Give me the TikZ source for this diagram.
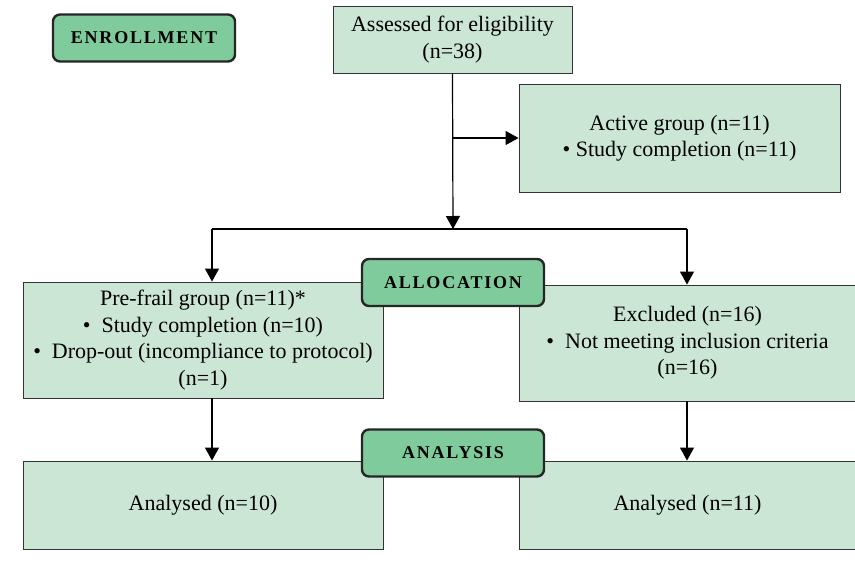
\documentclass[tikz,border=0pt]{standalone}
\usepackage{fontspec}
\setmainfont{Liberation Serif}
\usetikzlibrary{arrows.meta}
\definecolor{boxfill}{HTML}{CCE6D5}
\definecolor{tagfill}{HTML}{7FCB9C}
\definecolor{tagline}{HTML}{262626}
\newcommand{\tagfont}{\fontsize{18}{20}\selectfont\bfseries\addfontfeature{LetterSpace=10}}
\begin{document}
\begin{tikzpicture}[x=1pt,y=-1pt,
  box/.style={draw=black!80,line width=0.9pt,fill=boxfill,align=center,inner sep=0pt,
    font=\fontsize{22}{26.5}\selectfont},
  tag/.style={draw=tagline,line width=2.4pt,fill=tagfill,rounded corners=7pt,
    minimum width=182pt,minimum height=47pt,inner sep=0pt,font=\tagfont},
  arr/.style={line width=1.2pt,-{Triangle[length=13pt,width=14pt]}},
  ln/.style={line width=1.2pt}]
\useasboundingbox (0,0) rectangle (855,578);
% boxes
\node[box,minimum width=239pt,minimum height=67pt] (assess) at (452.5,39.5) {Assessed for eligibility\\(n=38)};
\node[box,minimum width=321pt,minimum height=108pt] (active) at (679.5,138) {Active group (n=11)\\• Study completion (n=11)};
\node[box,minimum width=360pt,minimum height=116pt] (prefrail) at (203,340) {Pre-frail group (n=11)*\\•\enspace Study completion (n=10)\\•\enspace Drop-out (incompliance to protocol)\\(n=1)};
\node[box,minimum width=337pt,minimum height=116pt] (excl) at (687.5,343) {Excluded (n=16)\\•\enspace Not meeting inclusion criteria\\(n=16)};
\node[box,minimum width=360pt,minimum height=88pt] (anleft) at (203,505) {Analysed (n=10)};
\node[box,minimum width=337pt,minimum height=88pt] (anright) at (687.5,505) {Analysed (n=11)};
% connectors
\coordinate (split) at (453,229);
\coordinate (side) at (453,138);
\coordinate (lft) at (212,229);
\coordinate (rgt) at (687,229);
\draw[arr] (assess.south) -- (split);
\draw[arr] (side) -- (active.west);
\draw[ln] (lft) -- (rgt);
\draw[arr] (lft) -- (lft |- prefrail.north);
\draw[arr] (rgt) -- (rgt |- excl.north);
\draw[arr] (lft |- prefrail.south) -- (lft |- anleft.north);
\draw[arr] (rgt |- excl.south) -- (rgt |- anright.north);
% stage tags
\node[tag] (enroll) at (144,38) {ENROLLMENT};
\node[tag] (alloc) at (453,282.5) {ALLOCATION};
\node[tag] (analysis) at (453,453) {ANALYSIS};
\end{tikzpicture}
\end{document}
